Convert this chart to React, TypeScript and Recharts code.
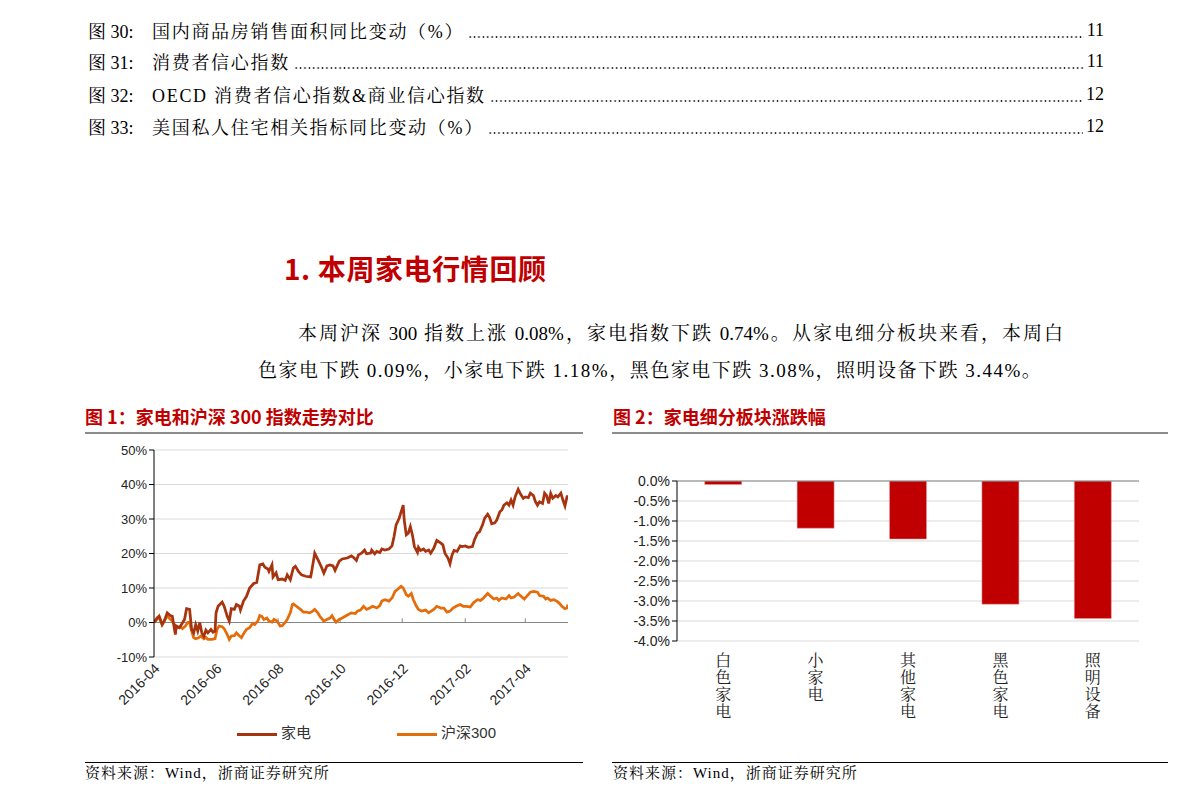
import React from 'react'
import {
    LineChart,
    Line,
    BarChart,
    Bar,
    XAxis,
    YAxis,
    CartesianGrid,
    ReferenceLine,
    Legend,
} from 'recharts'

// 目录
const tocLabels = ['图 30:', '图 31:', '图 32:', '图 33:']
const tocTitles = [
    '国内商品房销售面积同比变动（%）',
    '消费者信心指数',
    'OECD 消费者信心指数&商业信心指数',
    '美国私人住宅相关指标同比变动（%）',
]
const tocPages = ['11', '11', '12', '12']

// 图1: 天数从 2016-04-01 起算
const tickDays = [0, 61, 122, 183, 244, 306, 365]
const tickLabels = ['2016-04', '2016-06', '2016-08', '2016-10', '2016-12', '2017-02', '2017-04']
const yTicks1 = [-10, 0, 10, 20, 30, 40, 50]

const jdDays = [
    0, 3, 5, 8, 10, 13, 16, 18, 21, 22, 25, 27, 30, 32, 35, 37, 39, 41, 43, 45, 47, 49, 51, 53, 56, 58,
    60, 61, 63, 67, 69, 72, 74, 76, 79, 81, 84, 85, 88, 91, 94, 98, 101, 104, 107, 109, 112, 113, 116,
    117, 120, 122, 126, 129, 131, 134, 137, 139, 142, 145, 149, 154, 155, 158, 162, 165, 167, 170, 173,
    176, 178, 182, 185, 190, 194, 196, 199, 201, 204, 207, 209, 213, 214, 217, 219, 222, 224, 227, 231,
    234, 236, 238, 241, 243, 245, 246, 248, 250, 252, 254, 256, 259, 260, 262, 265, 267, 270, 272, 275,
    278, 282, 284, 286, 289, 291, 293, 295, 298, 301, 303, 306, 309, 313, 315, 318, 320, 323, 325, 328,
    330, 332, 335, 337, 340, 342, 344, 347, 349, 351, 353, 355, 358, 360, 363, 365, 368, 370, 373, 375,
    377, 379, 382, 384, 386, 388, 390, 392, 395, 397, 400, 402, 404, 406, 407,
]
const jdValues = [
    0, 1.3, 1.8, -0.6, 0.4, 2.8, 2.0, 1.8, -3.5, -1.0, -1.5, -0.6, 0.9, 4.0, 3.8, -2.0, -3.0, -0.6, -2.5,
    0, -3.0, -4.0, -2.2, -3.0, -2.0, -2.8, -2.5, 2.8, 4.7, 5.9, 4.7, 1.8, 0.4, 4.0, 3.8, 5.2, 4.7, 3.6,
    6.2, 7.6, 10.0, 11.3, 11.6, 16.7, 17.0, 16.0, 15.5, 14.8, 16.7, 13.2, 14.4, 12.4, 12.6, 12.2, 13.8,
    12.4, 15.8, 16.3, 14.8, 13.8, 13.4, 13.2, 14.8, 20.1, 17.7, 15.8, 14.3, 16.4, 16.7, 16.4, 15.1, 17.7,
    18.4, 18.7, 19.3, 18.9, 18.0, 19.6, 20.1, 21.0, 19.9, 20.1, 21.0, 19.9, 20.6, 20.3, 21.3, 21.0, 21.3,
    22.2, 24.9, 28.3, 30.2, 32.1, 34.0, 29.7, 25.4, 25.9, 27.8, 25.4, 22.0, 20.3, 21.8, 20.9, 21.3, 20.6,
    21.0, 20.1, 21.5, 23.8, 23.0, 22.5, 20.1, 18.7, 17.0, 19.6, 20.9, 20.6, 22.2, 22.0, 22.2, 21.8, 22.0,
    23.9, 25.9, 26.3, 28.3, 30.2, 31.4, 30.4, 28.6, 28.9, 29.7, 32.1, 32.6, 34.0, 34.7, 34.0, 35.5, 34.0,
    36.4, 38.6, 37.4, 36.0, 36.4, 36.2, 37.5, 36.8, 35.0, 34.0, 35.0, 34.5, 37.5, 36.8, 34.5, 37.4, 36.0,
    36.8, 36.4, 37.5, 35.5, 33.8, 36.4, 36.8,
]

const hsDays = [
    0, 3, 5, 8, 10, 13, 16, 18, 21, 23, 26, 28, 31, 33, 35, 37, 39, 41, 44, 46, 49, 51, 53, 57, 60, 62,
    64, 67, 69, 72, 74, 76, 79, 81, 84, 86, 89, 91, 94, 97, 99, 102, 104, 106, 108, 111, 113, 116, 118,
    121, 124, 126, 129, 131, 134, 136, 137, 140, 144, 147, 150, 153, 156, 158, 161, 163, 167, 170, 173,
    175, 177, 179, 182, 185, 188, 191, 194, 198, 200, 203, 206, 209, 212, 215, 219, 222, 224, 227, 231,
    234, 237, 241, 243, 245, 248, 250, 253, 255, 258, 260, 263, 267, 270, 275, 278, 282, 285, 288, 291,
    294, 297, 301, 304, 307, 311, 314, 318, 321, 324, 328, 331, 334, 337, 339, 342, 346, 349, 351, 354,
    358, 360, 364, 367, 370, 373, 377, 379, 383, 385, 387, 390, 393, 396, 398, 401, 404, 406, 407,
]
const hsValues = [
    0, 0.9, 1.8, -0.6, 0.4, 2.0, 0.9, 0.4, -1.0, -1.5, -1.2, -1.8, -1.0, 0, 0.1, -2.5, -4.4, -4.7, -4.4,
    -3.9, -4.7, -4.3, -4.9, -4.9, -4.7, -2.0, -1.0, -1.2, -1.8, -3.5, -4.9, -3.9, -3.8, -3.0, -3.9, -4.4,
    -2.8, -2.0, -1.5, -0.3, -0.6, 0.4, 2.0, 1.8, 0.9, 1.3, 0.4, 0.1, 0.9, 0.4, -1.0, -0.9, 0, 0.9, 2.8,
    5.2, 5.4, 4.7, 3.8, 3.0, 3.0, 2.8, 3.3, 3.8, 2.8, 1.8, 0.4, 0.9, 1.3, 2.0, 0.9, 0.1, 0.9, 1.3, 1.8,
    2.3, 2.8, 2.6, 3.3, 3.6, 4.7, 3.8, 4.2, 4.7, 4.2, 4.9, 6.2, 6.6, 6.2, 7.1, 9.0, 10.0, 10.5, 10.0, 8.1,
    7.6, 8.4, 6.6, 4.7, 3.8, 3.3, 3.6, 2.8, 3.8, 4.7, 4.2, 4.2, 3.0, 3.3, 4.2, 4.7, 5.2, 4.7, 4.7, 4.5,
    5.7, 6.6, 6.4, 7.1, 8.4, 7.6, 6.8, 7.1, 6.4, 7.1, 6.8, 7.8, 7.1, 7.4, 8.4, 7.8, 6.8, 7.8, 8.8, 9.0,
    8.8, 7.8, 7.6, 6.8, 7.1, 6.4, 6.6, 6.2, 5.7, 4.7, 4.0, 4.2, 5.2,
]

// 图2
const sectorNames = ['白色家电', '小家电', '其他家电', '黑色家电', '照明设备']
const sectorChange = [-0.09, -1.18, -1.45, -3.08, -3.44]
const yTicks2 = [0, -0.5, -1, -1.5, -2, -2.5, -3, -3.5, -4]
const edgeTicks = [0, 1, 2, 3, 4, 5]

const jdData = jdDays.map((d, i) => ({ day: d, v: jdValues[i] }))
const hsData = hsDays.map((d, i) => ({ day: d, v: hsValues[i] }))
const barData = sectorNames.map((n, i) => ({ name: n, v: sectorChange[i] }))

const JD_COLOR = '#A8340F'
const HS_COLOR = '#E46C0A'
const RED = '#C00000'
const SERIF = '"Liberation Serif", "Noto Serif CJK SC", "Noto Sans CJK SC", serif'
const SANS = '"Liberation Sans", "Noto Sans CJK SC", sans-serif'
const CJK_BOLD = '"Noto Sans CJK SC", "Liberation Sans", sans-serif'

const DateTick = (props: any) => {
    const { x, y, payload } = props
    const idx = tickDays.indexOf(payload.value)
    const ax = x + 3
    const ay = y + 1
    return (
        <text
            x={ax}
            y={ay}
            transform={`rotate(-45, ${ax}, ${ay})`}
            textAnchor="end"
            dominantBaseline="central"
            fontSize={14}
            fontFamily={SANS}
            fill="#222"
        >
            {tickLabels[idx]}
        </text>
    )
}

const VerticalTick = (props: any) => {
    const { x, y, payload } = props
    const chars = String(payload.value).split('')
    return (
        <g>
            {chars.map((c, i) => (
                <text
                    key={i}
                    x={x}
                    y={y + 11 + i * 17}
                    textAnchor="middle"
                    dominantBaseline="central"
                    fontSize={16}
                    fontFamily={SERIF}
                    fill="#222"
                >
                    {c}
                </text>
            ))}
        </g>
    )
}

const LegendContent = () => (
    <div style={{ height: 40, position: 'relative', fontFamily: SANS, fontSize: 15, color: '#333' }}>
        <div style={{ position: 'absolute', left: 133, top: 18, width: 40, height: 3, background: JD_COLOR }} />
        <div style={{ position: 'absolute', left: 177, top: 8, lineHeight: '20px' }}>家电</div>
        <div style={{ position: 'absolute', left: 293, top: 18, width: 40, height: 3, background: HS_COLOR }} />
        <div style={{ position: 'absolute', left: 337, top: 8, lineHeight: '20px' }}>沪深300</div>
    </div>
)

const TocRow = ({ i }: { i: number }) => (
    <div
        style={{
            position: 'absolute',
            left: 88,
            top: 18 + [0, 31, 64, 96][i],
            width: 1016,
            height: 24,
            display: 'flex',
            alignItems: 'center',
            fontFamily: SERIF,
            fontSize: 18,
            color: '#000',
            whiteSpace: 'nowrap',
        }}
    >
        <span style={{ width: 64, flex: 'none' }}>{tocLabels[i]}</span>
        <span style={{ flex: 'none', letterSpacing: 1.7 }}>{tocTitles[i]}</span>
        <span
            style={{
                flex: 1,
                alignSelf: 'stretch',
                margin: '0 3px 0 4px',
                backgroundImage: 'radial-gradient(circle, #222 0.75px, rgba(0,0,0,0) 1.1px)',
                backgroundSize: '4.4px 4px',
                backgroundRepeat: 'repeat-x',
                backgroundPosition: 'left 17px',
            }}
        />
        <span style={{ flex: 'none' }}>{tocPages[i]}</span>
    </div>
)

const App = () => {
    return (
        <div style={{ position: 'absolute', left: 0, top: 0, width: 1191, height: 802, background: '#fff' }}>
            {[0, 1, 2, 3].map((i) => (
                <TocRow key={i} i={i} />
            ))}

            <div
                style={{
                    position: 'absolute',
                    left: 284,
                    top: 249,
                    fontFamily: CJK_BOLD,
                    fontWeight: 700,
                    fontSize: 28,
                    letterSpacing: 0.6,
                    color: RED,
                    whiteSpace: 'nowrap',
                    lineHeight: '38px',
                }}
            >
                1. 本周家电行情回顾
            </div>

            <div
                style={{
                    position: 'absolute',
                    left: 298,
                    top: 321,
                    width: 765,
                    fontFamily: SERIF,
                    fontSize: 19,
                    lineHeight: '26px',
                    textAlign: 'justify',
                    textAlignLast: 'justify',
                    whiteSpace: 'nowrap',
                }}
            >
                本周沪深 300 指数上涨 0.08%，家电指数下跌 0.74%。从家电细分板块来看，本周白
            </div>
            <div
                style={{
                    position: 'absolute',
                    left: 258,
                    top: 358,
                    fontFamily: SERIF,
                    fontSize: 19,
                    lineHeight: '26px',
                    whiteSpace: 'nowrap',
                    letterSpacing: 1.5,
                }}
            >
                色家电下跌 0.09%，小家电下跌 1.18%，黑色家电下跌 3.08%，照明设备下跌 3.44%。
            </div>

            {/* 图1 */}
            <div
                style={{
                    position: 'absolute',
                    left: 85,
                    top: 403,
                    fontFamily: CJK_BOLD,
                    fontWeight: 700,
                    fontSize: 18,
                    color: RED,
                    whiteSpace: 'nowrap',
                    lineHeight: '26px',
                }}
            >
                图 1：家电和沪深 300 指数走势对比
            </div>
            <div style={{ position: 'absolute', left: 85, top: 432, width: 498, height: 2, background: '#8c8c8c' }} />

            <div style={{ position: 'absolute', left: 85, top: 440 }}>
                <LineChart width={500} height={320} margin={{ top: 10, right: 17, bottom: 5, left: 19 }}>
                    <CartesianGrid vertical={false} stroke="#d9d9d9" />
                    <XAxis
                        type="number"
                        dataKey="day"
                        domain={[0, 407]}
                        ticks={tickDays}
                        interval={0}
                        tick={<DateTick />}
                        axisLine={false}
                        tickLine={false}
                        height={58}
                        allowDataOverflow
                    />
                    <YAxis
                        domain={[-10, 50]}
                        ticks={yTicks1}
                        interval={0}
                        tickFormatter={(v: number) => `${v}%`}
                        tick={{ fontSize: 13, fill: '#222', fontFamily: SANS }}
                        axisLine={{ stroke: '#000' }}
                        tickLine={{ stroke: '#000' }}
                        tickSize={5}
                        width={50}
                    />
                    <ReferenceLine y={0} stroke="#868686" strokeWidth={1} />
                    {tickDays.slice(1).map((d) => (
                        <ReferenceLine
                            key={d}
                            segment={[
                                { x: d, y: 0 },
                                { x: d, y: 1.2 },
                            ]}
                            stroke="#868686"
                        />
                    ))}
                    <Legend verticalAlign="bottom" height={40} content={<LegendContent />} />
                    <Line
                        data={hsData}
                        dataKey="v"
                        name="沪深300"
                        type="linear"
                        stroke={HS_COLOR}
                        strokeWidth={2.75}
                        dot={false}
                        isAnimationActive={false}
                    />
                    <Line
                        data={jdData}
                        dataKey="v"
                        name="家电"
                        type="linear"
                        stroke={JD_COLOR}
                        strokeWidth={2.75}
                        dot={false}
                        isAnimationActive={false}
                    />
                </LineChart>
            </div>

            <div style={{ position: 'absolute', left: 85, top: 762, width: 498, height: 1, background: '#000' }} />
            <div
                style={{
                    position: 'absolute',
                    left: 85,
                    top: 763,
                    fontFamily: SERIF,
                    fontSize: 15,
                    letterSpacing: 1,
                    lineHeight: '20px',
                    whiteSpace: 'nowrap',
                }}
            >
                资料来源：Wind，浙商证券研究所
            </div>

            {/* 图2 */}
            <div
                style={{
                    position: 'absolute',
                    left: 613,
                    top: 403,
                    fontFamily: CJK_BOLD,
                    fontWeight: 700,
                    fontSize: 18,
                    color: RED,
                    whiteSpace: 'nowrap',
                    lineHeight: '26px',
                }}
            >
                图 2：家电细分板块涨跌幅
            </div>
            <div style={{ position: 'absolute', left: 612, top: 432, width: 556, height: 2, background: '#8c8c8c' }} />

            <div style={{ position: 'absolute', left: 612, top: 440 }}>
                <BarChart
                    width={556}
                    height={300}
                    data={barData}
                    margin={{ top: 41, right: 29, bottom: 4, left: 15 }}
                    barCategoryGap="30%"
                >
                    <CartesianGrid vertical={false} stroke="#d9d9d9" />
                    <XAxis
                        dataKey="name"
                        axisLine={false}
                        tickLine={false}
                        tick={<VerticalTick />}
                        interval={0}
                        height={95}
                    />
                    <XAxis
                        xAxisId="edge"
                        orientation="top"
                        type="number"
                        domain={[0, 5]}
                        ticks={edgeTicks}
                        interval={0}
                        tick={false}
                        height={0}
                        axisLine={{ stroke: '#868686' }}
                        tickLine={{ stroke: '#868686' }}
                        tickSize={4}
                        allowDataOverflow
                    />
                    <YAxis
                        domain={[-4, 0]}
                        ticks={yTicks2}
                        interval={0}
                        tickFormatter={(v: number) => `${v.toFixed(1)}%`}
                        tick={{ fontSize: 14, fill: '#222', fontFamily: SANS }}
                        axisLine={{ stroke: '#000' }}
                        tickLine={{ stroke: '#000' }}
                        tickSize={5}
                        width={50}
                        allowDataOverflow
                    />
                    <ReferenceLine y={0} stroke="#868686" />
                    <Bar dataKey="v" fill={RED} stroke="#e8a0a0" strokeWidth={0.5} isAnimationActive={false} />
                </BarChart>
            </div>

            <div style={{ position: 'absolute', left: 612, top: 762, width: 556, height: 1, background: '#000' }} />
            <div
                style={{
                    position: 'absolute',
                    left: 613,
                    top: 763,
                    fontFamily: SERIF,
                    fontSize: 15,
                    letterSpacing: 1,
                    lineHeight: '20px',
                    whiteSpace: 'nowrap',
                }}
            >
                资料来源：Wind，浙商证券研究所
            </div>
        </div>
    )
}

export default App
